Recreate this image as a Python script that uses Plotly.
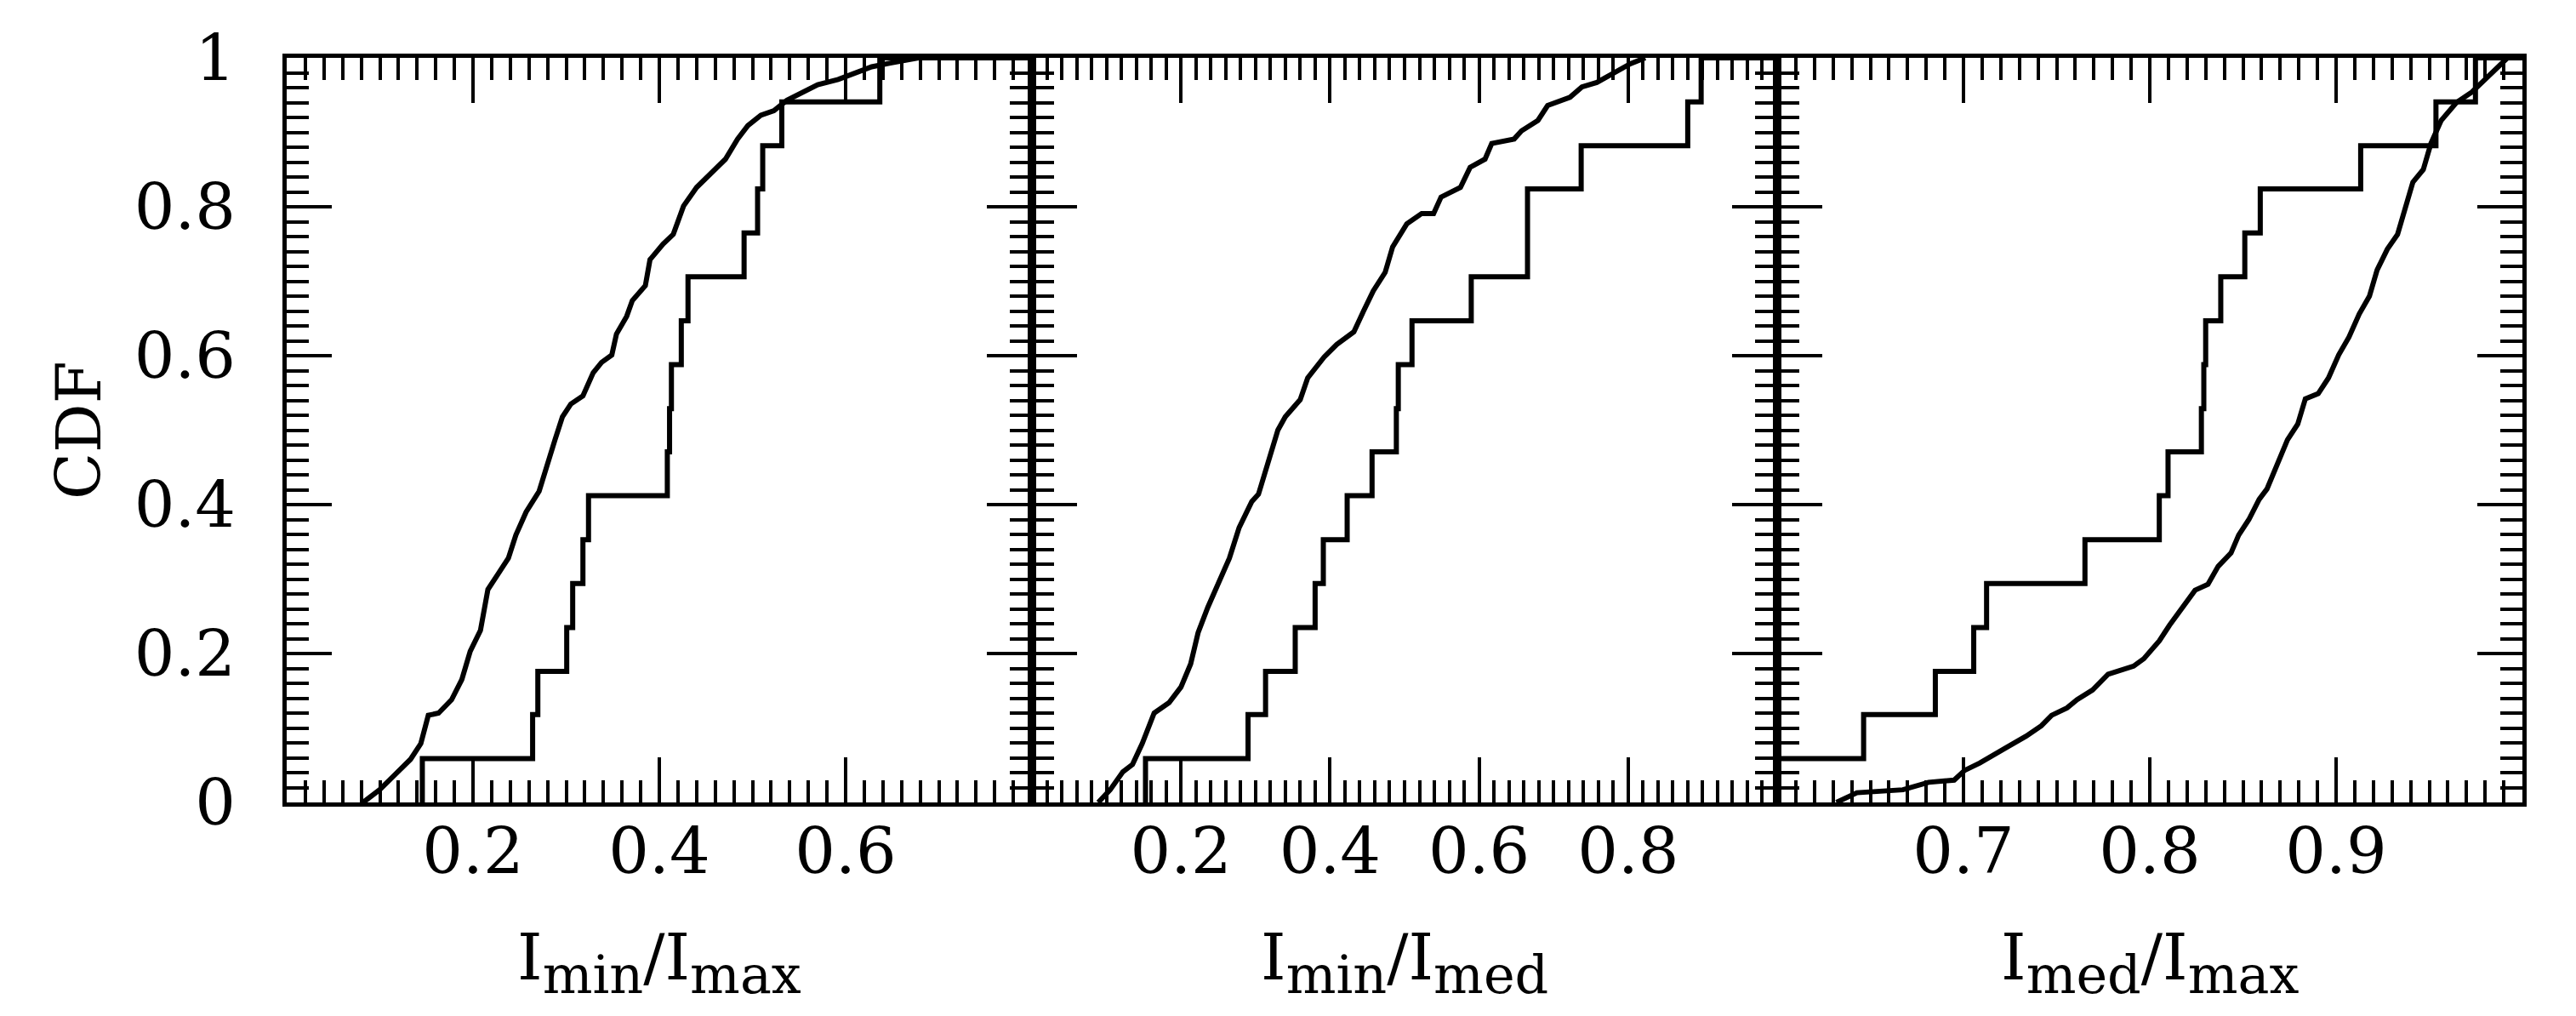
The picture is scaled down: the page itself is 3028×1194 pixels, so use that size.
import plotly.graph_objects as go
from plotly.subplots import make_subplots

# small sample (17 objects): jump positions and CDF levels
small_x_1 = [0.1456, 0.1456, 0.264, 0.2696, 0.3006, 0.307, 0.318, 0.324, 0.4086, 0.411,
             0.413, 0.4236, 0.4308, 0.491, 0.5055, 0.511, 0.5315, 0.6367, 0.8]
small_x_2 = [0.1524, 0.1524, 0.290, 0.3135, 0.3533, 0.380, 0.391, 0.423, 0.4564, 0.489,
             0.4916, 0.510, 0.5895, 0.665, 0.665, 0.737, 0.880, 0.898, 1.0]
small_x_3 = [0.59, 0.59, 0.6464, 0.6849, 0.7055, 0.7124, 0.7652, 0.8051, 0.8098, 0.8277,
             0.829, 0.830, 0.8381, 0.851, 0.8593, 0.9132, 0.9536, 0.9748, 1.0]
small_y = [0, 0.059, 0.118, 0.176, 0.235, 0.294, 0.353, 0.412, 0.471, 0.529,
           0.588, 0.647, 0.706, 0.765, 0.824, 0.882, 0.941, 1.0, 1.0]

# large sample: points read along the fine-step CDF
big_x_1 = [0.082, 0.0997, 0.116, 0.133, 0.144, 0.152, 0.163, 0.177, 0.188, 0.197, 0.208, 0.216,
           0.227, 0.238, 0.246, 0.257, 0.271, 0.280, 0.288, 0.296, 0.305, 0.318, 0.329, 0.338,
           0.349, 0.354, 0.365, 0.371, 0.385, 0.390, 0.404, 0.415, 0.426, 0.440, 0.457, 0.471,
           0.484, 0.495, 0.509, 0.523, 0.537, 0.554, 0.570, 0.592, 0.606, 0.628, 0.648, 0.678]
big_y_1 = [0.0, 0.017, 0.037, 0.058, 0.079, 0.117, 0.12, 0.138, 0.165, 0.203, 0.231, 0.286,
           0.307, 0.328, 0.359, 0.39, 0.418, 0.452, 0.487, 0.518, 0.535, 0.546, 0.577, 0.591,
           0.601, 0.629, 0.653, 0.674, 0.694, 0.729, 0.75, 0.763, 0.801, 0.826, 0.846, 0.864,
           0.891, 0.909, 0.923, 0.929, 0.943, 0.954, 0.964, 0.971, 0.978, 0.988, 0.993, 1.0]

big_x_2 = [0.089, 0.105, 0.122, 0.135, 0.148, 0.164, 0.184, 0.2, 0.213, 0.223, 0.236, 0.252,
           0.265, 0.278, 0.295, 0.304, 0.317, 0.330, 0.340, 0.360, 0.370, 0.392, 0.409, 0.432,
           0.445, 0.458, 0.474, 0.484, 0.503, 0.523, 0.539, 0.549, 0.575, 0.588, 0.608, 0.617,
           0.647, 0.657, 0.679, 0.692, 0.722, 0.738, 0.758, 0.777, 0.803, 0.823]
big_y_2 = [0.0, 0.017, 0.041, 0.051, 0.079, 0.12, 0.134, 0.155, 0.186, 0.228, 0.262, 0.3,
           0.328, 0.369, 0.404, 0.414, 0.459, 0.5, 0.518, 0.541, 0.57, 0.598, 0.615, 0.632,
           0.66, 0.687, 0.712, 0.746, 0.777, 0.791, 0.791, 0.813, 0.826, 0.853, 0.864, 0.885,
           0.891, 0.902, 0.916, 0.936, 0.947, 0.961, 0.967, 0.978, 0.992, 1.0]

big_x_3 = [0.6318, 0.6428, 0.6675, 0.6813, 0.695, 0.7006, 0.7088, 0.7184, 0.7239, 0.7336,
           0.7418, 0.7473, 0.7556, 0.761, 0.7693, 0.7776, 0.7913, 0.7968, 0.8051, 0.8106,
           0.8175, 0.8243, 0.8312, 0.8367, 0.8436, 0.8477, 0.8532, 0.8587, 0.8629, 0.8684,
           0.8739, 0.8794, 0.8835, 0.8904, 0.8959, 0.9014, 0.9069, 0.9124, 0.9179, 0.922,
           0.9275, 0.933, 0.9371, 0.9412, 0.9468, 0.9509, 0.9564, 0.9646, 0.9729, 0.9811,
           0.9894, 0.992]
big_y_3 = [0.0, 0.013, 0.017, 0.027, 0.03, 0.043, 0.053, 0.068, 0.075, 0.089, 0.103, 0.117,
           0.127, 0.138, 0.151, 0.172, 0.183, 0.193, 0.217, 0.238, 0.262, 0.285, 0.293, 0.317,
           0.335, 0.359, 0.38, 0.407, 0.421, 0.452, 0.487, 0.508, 0.542, 0.549, 0.57, 0.601,
           0.625, 0.656, 0.68, 0.715, 0.743, 0.763, 0.801, 0.833, 0.85, 0.885, 0.916, 0.94,
           0.954, 0.974, 0.995, 1.0]

x_ranges = [[0, 0.8], [0, 1.0], [0.6, 1.0]]
x_ticks = [[0.2, 0.4, 0.6], [0.2, 0.4, 0.6, 0.8], [0.7, 0.8, 0.9]]
x_minor = [0.02, 0.02, 0.01]
x_titles = [("min", "max"), ("min", "med"), ("med", "max")]
y_ticks = [0, 0.2, 0.4, 0.6, 0.8, 1]
y_text = ["0", "0.2", "0.4", "0.6", "0.8", "1"]

FONT = "DejaVu Serif"


def ratio_title(a, b):
    sub = "<sub><span style='font-size:62px'>{}</span></sub>"
    return "I" + sub.format(a) + "/I" + sub.format(b)


fig = make_subplots(rows=1, cols=3, horizontal_spacing=0)

smalls = [small_x_1, small_x_2, small_x_3]
bigs = [(big_x_1, big_y_1), (big_x_2, big_y_2), (big_x_3, big_y_3)]
for i in range(3):
    fig.add_trace(go.Scatter(x=smalls[i], y=small_y, mode="lines", line_shape="hv",
                             line=dict(color="black", width=6), showlegend=False), row=1, col=i + 1)
    fig.add_trace(go.Scatter(x=bigs[i][0], y=bigs[i][1], mode="lines",
                             line=dict(color="black", width=6), showlegend=False), row=1, col=i + 1)

    fig.update_xaxes(range=x_ranges[i], tickvals=x_ticks[i],
                     ticktext=[f"{v:.1f}" for v in x_ticks[i]],
                     ticks="inside", ticklen=53, tickwidth=4, tickcolor="black",
                     showline=True, linewidth=5, linecolor="black", mirror="allticks",
                     showgrid=False, zeroline=False, ticklabelstandoff=-12,
                     tickfont=dict(family=FONT, size=75, color="black"),
                     minor=dict(dtick=x_minor[i], tick0=0, ticks="inside", ticklen=26,
                                tickwidth=4, tickcolor="black", showgrid=False),
                     row=1, col=i + 1)
    fig.update_yaxes(range=[0, 1], tickvals=y_ticks, ticktext=y_text,
                     showticklabels=(i == 0),
                     ticks="inside", ticklen=53, tickwidth=4, tickcolor="black",
                     showline=True, linewidth=5, linecolor="black", mirror="allticks",
                     showgrid=False, zeroline=False, ticklabelstandoff=40,
                     tickfont=dict(family=FONT, size=75, color="black"),
                     minor=dict(dtick=0.02, tick0=0, ticks="inside", ticklen=26,
                                tickwidth=4, tickcolor="black", showgrid=False),
                     row=1, col=i + 1)

    fig.add_annotation(text=ratio_title(*x_titles[i]),
                       xref=f"x{'' if i == 0 else i + 1} domain", yref="paper",
                       x=0.5, y=-0.215, xanchor="center", yanchor="middle", showarrow=False,
                       font=dict(family=FONT, size=75, color="black"))

fig.add_annotation(text="CDF", xref="paper", yref="paper", x=-0.093, y=0.5,
                   xanchor="center", yanchor="middle", textangle=-90, showarrow=False,
                   font=dict(family=FONT, size=72, color="black"))

fig.update_layout(width=3028, height=1194, plot_bgcolor="white", paper_bgcolor="white",
                  margin=dict(l=329, r=71, t=60, b=259))

fig.write_html("out.html")
